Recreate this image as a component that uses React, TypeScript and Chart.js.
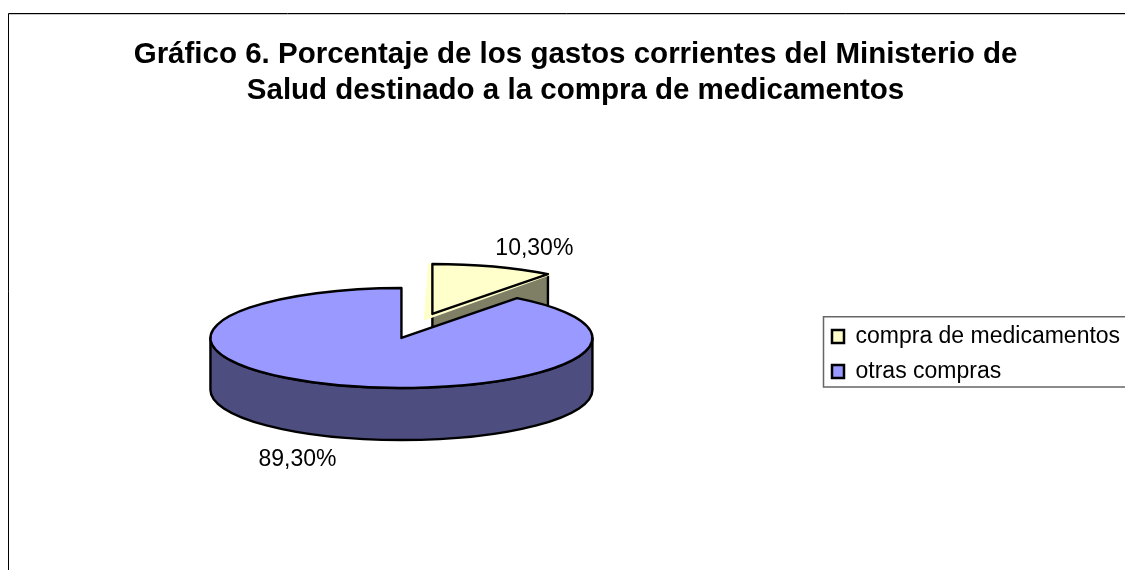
import React, { useEffect, useRef } from "react";
import { Chart, registerables } from "chart.js";

Chart.register(...registerables);

const categories = ["compra de medicamentos", "otras compras"];
const shares = [10.3, 89.3];
const titleLines = [
  "Gráfico 6. Porcentaje de los gastos corrientes del Ministerio de",
  "Salud destinado a la compra de medicamentos",
];
const topColors = ["#FFFFCC", "#9999FF"];
const wallColors = ["#7F7F66", "#4D4D80"];

const FONT = "'Liberation Sans', Arial, sans-serif";
const TILT = 50 / 191;
const DEPTH = 52;
const RADIUS = 191;
const EXPLODE = 278;
const LINE = 2.4;
const LABEL_NUDGE = [
  [41, -17.5],
  [-43, 22],
];

function arcGeometry(arc: any) {
  const { x, y, startAngle, endAngle, outerRadius, circumference } = arc;
  const base = (arc.options.offset || 0) / 4;
  const half = (startAngle + endAngle) / 2;
  const fix = 1 - Math.sin(Math.min(Math.PI, circumference || 0));
  const shift = base + base * fix;
  return {
    cx: x + Math.cos(half) * shift,
    cy: (y as number) + Math.sin(half) * shift * TILT,
    r: outerRadius,
    startAngle,
    endAngle,
    half,
  };
}

const piePlugin = {
  id: "tiltedPie",
  afterLayout(chart: any) {
    const legend = chart.legend;
    const w = legend.width;
    const h = legend.height;
    legend.left = 820;
    legend.right = 820 + w;
    legend.top = 313;
    legend.bottom = 313 + h;
    chart.titleBlock.left += 19;
    chart.titleBlock.right += 19;
  },
  beforeDraw(chart: any) {
    const { ctx, width, height } = chart;
    ctx.save();
    ctx.fillStyle = "#ffffff";
    ctx.fillRect(0, 0, width, height);
    ctx.strokeStyle = "#c8c8c8";
    ctx.lineWidth = 1;
    ctx.beginPath();
    ctx.moveTo(9, 14.5);
    ctx.lineTo(width, 14.5);
    ctx.stroke();
    ctx.strokeStyle = "#000000";
    ctx.beginPath();
    ctx.moveTo(width, 13.5);
    ctx.lineTo(8.5, 13.5);
    ctx.lineTo(8.5, height);
    ctx.stroke();
    // legend frame
    ctx.strokeStyle = "#666666";
    ctx.lineWidth = 1.5;
    ctx.beginPath();
    ctx.moveTo(width, 316.8);
    ctx.lineTo(823.5, 316.8);
    ctx.lineTo(823.5, 387);
    ctx.lineTo(width, 387);
    ctx.stroke();
    ctx.restore();
  },
  beforeDatasetsDraw(chart: any) {
    const { ctx } = chart;
    const arcs = chart.getDatasetMeta(0).data;
    ctx.save();
    ctx.lineWidth = LINE;
    ctx.strokeStyle = "#000";
    ctx.lineJoin = "round";
    arcs.forEach((arc: any, i: number) => {
      const g = arcGeometry(arc);
      const ry = g.r * TILT;
      ctx.fillStyle = wallColors[i];
      ctx.beginPath();
      if (g.endAngle - g.startAngle > Math.PI) {
        ctx.ellipse(g.cx, g.cy, g.r, ry, 0, 0, Math.PI);
        ctx.lineTo(g.cx - g.r, g.cy + DEPTH);
        ctx.ellipse(g.cx, g.cy + DEPTH, g.r, ry, 0, Math.PI, 0, true);
      } else {
        const ex = g.cx + Math.cos(g.endAngle) * g.r;
        const ey = g.cy + Math.sin(g.endAngle) * ry;
        ctx.moveTo(g.cx, g.cy);
        ctx.lineTo(ex, ey);
        ctx.lineTo(ex, ey + DEPTH);
        ctx.lineTo(g.cx, g.cy + DEPTH);
      }
      ctx.closePath();
      ctx.fill();
      ctx.stroke();
    });
    ctx.restore();

    const cy = arcs[0].y;
    ctx.save();
    ctx.translate(0, cy);
    ctx.scale(1, TILT);
    ctx.translate(0, -cy);
  },
  afterDatasetsDraw(chart: any) {
    const { ctx } = chart;
    ctx.restore();
    const arcs = chart.getDatasetMeta(0).data;
    ctx.save();
    ctx.lineWidth = LINE;
    ctx.strokeStyle = "#000";
    ctx.lineJoin = "round";
    arcs.forEach((arc: any) => {
      const g = arcGeometry(arc);
      ctx.beginPath();
      ctx.moveTo(g.cx, g.cy);
      ctx.ellipse(g.cx, g.cy, g.r, g.r * TILT, 0, g.startAngle, g.endAngle);
      ctx.closePath();
      ctx.stroke();
    });
    ctx.fillStyle = "#000";
    ctx.font = `23px ${FONT}`;
    ctx.textAlign = "center";
    ctx.textBaseline = "middle";
    arcs.forEach((arc: any, i: number) => {
      const g = arcGeometry(arc);
      const rimX = g.cx + Math.cos(g.half) * g.r;
      const rimY = g.cy + Math.sin(g.half) * g.r * TILT + (Math.sin(g.half) > 0 ? DEPTH : 0);
      const text = shares[i].toFixed(2).replace(".", ",") + "%";
      ctx.fillText(text, rimX + LABEL_NUDGE[i][0], rimY + LABEL_NUDGE[i][1]);
    });
    ctx.restore();
  },
};

export default function App() {
  const ref = useRef<HTMLCanvasElement | null>(null);
  useEffect(() => {
    if (!ref.current) return;
    const defaultLabels = (Chart as any).overrides.pie.plugins.legend.labels.generateLabels;
    const chart = new Chart(ref.current, {
      type: "pie",
      data: {
        labels: categories,
        datasets: [
          {
            data: shares,
            backgroundColor: topColors,
            borderWidth: 0,
            offset: [EXPLODE, 0],
            hoverOffset: 0,
            radius: RADIUS,
            clip: false,
          } as any,
        ],
      },
      options: {
        responsive: false,
        animation: false,
        events: [],
        layout: { padding: { left: 25, right: 37, top: 37, bottom: 4 } },
        plugins: {
          title: {
            display: true,
            text: titleLines,
            color: "#000",
            font: { family: FONT, size: 29.5, weight: "bold", lineHeight: 1.22 },
            padding: { top: 0, bottom: 1 },
          },
          legend: {
            display: true,
            position: "right",
            align: "start",
            labels: {
              color: "#000",
              font: { family: FONT, size: 23 },
              boxWidth: 12,
              boxHeight: 13,
              padding: 12,
              generateLabels(c: any) {
                return defaultLabels(c).map((item: any) => ({
                  ...item,
                  lineWidth: 2.5,
                  strokeStyle: "#000",
                }));
              },
            },
          },
          tooltip: { enabled: false },
        },
      } as any,
      plugins: [piePlugin],
    });
    return () => chart.destroy();
  }, []);
  return (
    <div style={{ position: "absolute", left: 0, top: 0, width: 1125, height: 570, overflow: "hidden" }}>
      <canvas ref={ref} width={1125} height={570} style={{ display: "block" }} />
    </div>
  );
}
